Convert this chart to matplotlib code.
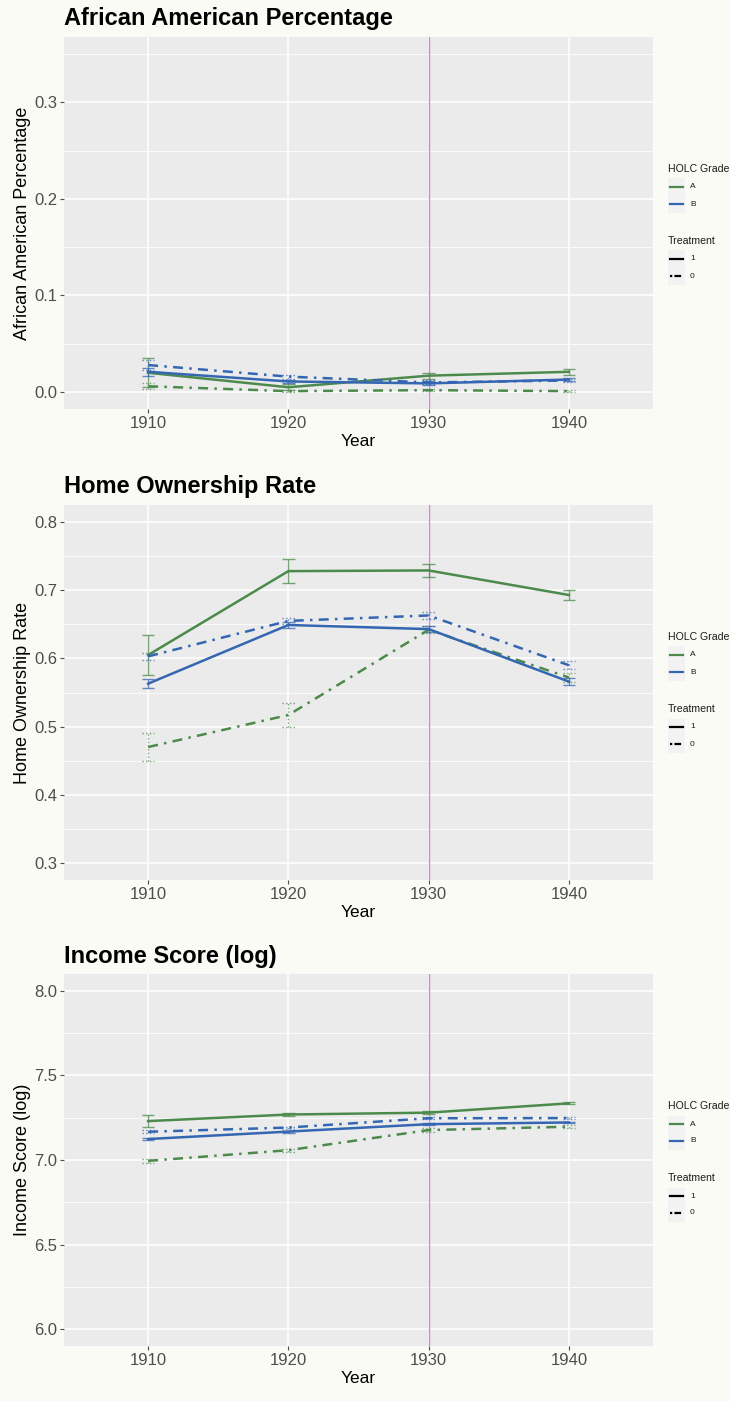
import numpy as np
import matplotlib.pyplot as plt
from matplotlib.lines import Line2D
from matplotlib.patches import Rectangle

plt.rcParams['font.family'] = ['Liberation Sans', 'DejaVu Sans']

years = [1910, 1920, 1930, 1940]

# African American percentage
aa_A1 = [0.020, 0.005, 0.017, 0.021]
aa_A1_se = [0.015, 0.003, 0.003, 0.003]
aa_A0 = [0.006, 0.001, 0.002, 0.001]
aa_A0_se = [0.003, 0.001, 0.001, 0.001]
aa_B1 = [0.021, 0.011, 0.009, 0.013]
aa_B1_se = [0.004, 0.002, 0.002, 0.002]
aa_B0 = [0.028, 0.016, 0.010, 0.012]
aa_B0_se = [0.005, 0.002, 0.002, 0.002]

# Home ownership rate
ho_A1 = [0.605, 0.728, 0.729, 0.693]
ho_A1_se = [0.030, 0.018, 0.009, 0.008]
ho_A0 = [0.470, 0.517, 0.642, 0.572]
ho_A0_se = [0.021, 0.018, 0.005, 0.006]
ho_B1 = [0.563, 0.649, 0.643, 0.566]
ho_B1_se = [0.007, 0.005, 0.004, 0.005]
ho_B0 = [0.603, 0.655, 0.663, 0.590]
ho_B0_se = [0.005, 0.005, 0.005, 0.006]

# Income score (log)
inc_A1 = [7.230, 7.269, 7.280, 7.335]
inc_A1_se = [0.035, 0.010, 0.010, 0.006]
inc_A0 = [6.995, 7.058, 7.177, 7.197]
inc_A0_se = [0.010, 0.010, 0.010, 0.010]
inc_B1 = [7.124, 7.168, 7.212, 7.222]
inc_B1_se = [0.006, 0.006, 0.005, 0.005]
inc_B0 = [7.167, 7.192, 7.247, 7.248]
inc_B0_se = [0.008, 0.006, 0.005, 0.006]

GREEN = '#4c8a4c'
BLUE = '#3566b2'
DOTDASH = (0, (4, 2.5, 1, 2.5))
BG = '#fbfbf6'

W, H = 730, 1401
fig = plt.figure(figsize=(W / 100, H / 100), dpi=100, facecolor=BG)


def px_axes(left, top, right, bottom):
    return fig.add_axes([left / W, 1 - bottom / H, (right - left) / W, (bottom - top) / H])


def draw_series(ax, y, se, color, solid):
    ls = '-' if solid else DOTDASH
    ebls = '-' if solid else ':'
    y = np.array(y)
    se = np.array(se)
    x = np.array(years)
    ax.vlines(x, y - se, y + se, color=color, lw=1.0, ls=ebls, alpha=0.75, zorder=3)
    ax.hlines(y - se, x - 0.45, x + 0.45, color=color, lw=1.0, ls=ebls, alpha=0.75, zorder=3)
    ax.hlines(y + se, x - 0.45, x + 0.45, color=color, lw=1.0, ls=ebls, alpha=0.75, zorder=3)
    ax.plot(x, y, color=color, lw=1.8, ls=ls, zorder=4)


def draw_legend(top):
    x0 = 668
    fig.text(x0 / W, 1 - (top + 132) / H, 'HOLC Grade', fontsize=7.6, va='center', ha='left', color='#1a1a1a')
    fig.text(x0 / W, 1 - (top + 204) / H, 'Treatment', fontsize=7.6, va='center', ha='left', color='#1a1a1a')
    keys = [(150, GREEN, '-', 'A'), (167, BLUE, '-', 'B'),
            (222, 'black', '-', '1'), (239, 'black', DOTDASH, '0')]
    for off, col, ls, lab in keys:
        yc = top + off
        fig.add_artist(Rectangle((x0 / W, 1 - (yc + 8.5) / H), 17 / W, 17 / H,
                                 transform=fig.transFigure, facecolor='#f2f2f2', edgecolor='none'))
        fig.add_artist(Line2D([(x0 + 2) / W, (x0 + 15) / W], [1 - yc / H, 1 - yc / H],
                              transform=fig.transFigure, color=col, lw=1.6,
                              ls=ls if ls == '-' else (0, (1, 1, 3, 1))))
        fig.text((x0 + 22) / W, 1 - yc / H, lab, fontsize=6, va='center', ha='left', color='#1a1a1a')


panels = [
    ('African American Percentage', 37, 409, (-0.0175, 0.3675), [0.0, 0.1, 0.2, 0.3],
     [0.05, 0.15, 0.25, 0.35], '{:.1f}',
     [(aa_A1, aa_A1_se, GREEN, True), (aa_A0, aa_A0_se, GREEN, False),
      (aa_B1, aa_B1_se, BLUE, True), (aa_B0, aa_B0_se, BLUE, False)]),
    ('Home Ownership Rate', 505, 880, (0.275, 0.825), [0.3, 0.4, 0.5, 0.6, 0.7, 0.8],
     [0.35, 0.45, 0.55, 0.65, 0.75], '{:.1f}',
     [(ho_A1, ho_A1_se, GREEN, True), (ho_A0, ho_A0_se, GREEN, False),
      (ho_B1, ho_B1_se, BLUE, True), (ho_B0, ho_B0_se, BLUE, False)]),
    ('Income Score (log)', 974, 1346, (5.9, 8.1), [6.0, 6.5, 7.0, 7.5, 8.0],
     [6.25, 6.75, 7.25, 7.75], '{:.1f}',
     [(inc_A1, inc_A1_se, GREEN, True), (inc_A0, inc_A0_se, GREEN, False),
      (inc_B1, inc_B1_se, BLUE, True), (inc_B0, inc_B0_se, BLUE, False)]),
]

for title, top, bottom, ylim, yticks, yminor, fmt, series in panels:
    ax = px_axes(64, top, 653, bottom)
    ax.set_facecolor('#ebebeb')
    for s in ax.spines.values():
        s.set_visible(False)
    ax.set_xlim(1904, 1946)
    ax.set_ylim(*ylim)
    ax.set_xticks(years)
    ax.set_yticks(yticks)
    ax.set_yticks(yminor, minor=True)
    ax.set_yticklabels([fmt.format(t) for t in yticks])
    ax.grid(True, which='major', color='white', lw=1.1, zorder=0)
    ax.grid(True, which='minor', axis='y', color='white', lw=0.55, zorder=0)
    ax.set_axisbelow(True)
    ax.tick_params(axis='both', which='major', length=3, width=0.8, color='#4d4d4d',
                   labelcolor='#4d4d4d', labelsize=12, pad=2)
    ax.tick_params(axis='both', which='minor', length=0)
    ax.set_xlabel('Year', fontsize=12.5, color='black', labelpad=2)
    ax.set_ylabel(title, fontsize=13, color='black', labelpad=2)
    ax.axvline(1930, color='#c88fcb', lw=1.0, zorder=2)
    for y, se, col, solid in series:
        draw_series(ax, y, se, col, solid)
    fig.text(64 / W, 1 - (top - 18) / H, title, fontsize=17, fontweight='bold',
             va='center', ha='left', color='black')
    draw_legend(top)

fig.savefig('out.png', dpi=100, facecolor=BG)
